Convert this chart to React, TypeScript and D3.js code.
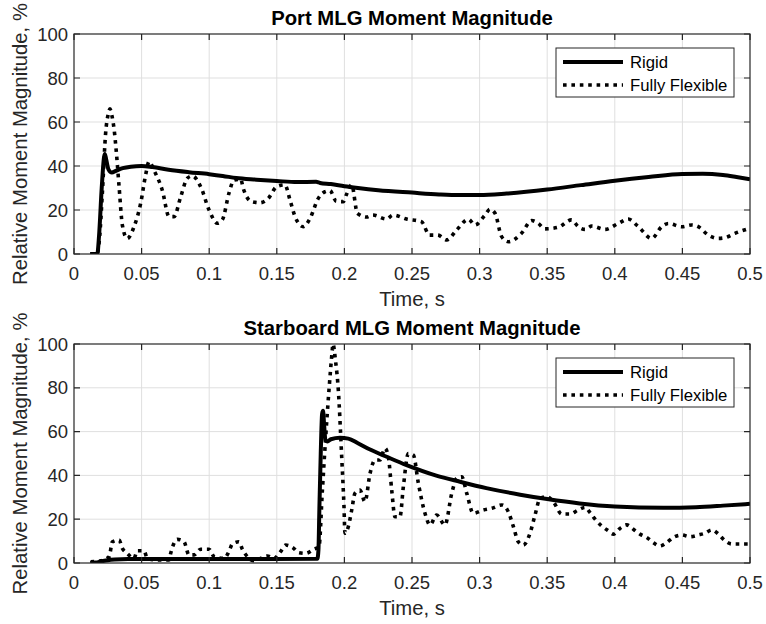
import { useEffect, useRef } from "react";
import * as d3 from "d3";

// chart values
const xTicks = [0, 0.05, 0.1, 0.15, 0.2, 0.25, 0.3, 0.35, 0.4, 0.45, 0.5];
const yTicks = [0, 20, 40, 60, 80, 100];
const seriesNames = ["Rigid", "Fully Flexible"];
const panelTitles = ["Port MLG Moment Magnitude", "Starboard MLG Moment Magnitude"];

const portRigidT = [0.012, 0.0172, 0.0185, 0.0205, 0.0222, 0.0228, 0.0238, 0.0255, 0.028, 0.031, 0.036, 0.042, 0.05, 0.058, 0.07, 0.085, 0.1, 0.11, 0.12, 0.135, 0.15, 0.165, 0.179, 0.182, 0.19, 0.2, 0.21, 0.225, 0.25, 0.27, 0.285, 0.3, 0.32, 0.35, 0.375, 0.4, 0.425, 0.45, 0.465, 0.48, 0.49, 0.5];
const portRigidV = [0, 0, 8, 30, 44, 45.5, 43, 38.5, 37, 37.8, 39, 39.7, 40, 39.5, 38.3, 37.2, 36.3, 35.5, 34.5, 33.8, 33.2, 32.7, 32.8, 32.3, 31.8, 30.8, 30, 29, 27.9, 27.1, 26.8, 26.8, 27.5, 29.3, 31.3, 33.3, 35, 36.4, 36.5, 35.9, 35, 34];

const portFlexT = [0.012, 0.017, 0.019, 0.021, 0.0234, 0.0255, 0.0266, 0.028, 0.0296, 0.0315, 0.0333, 0.0358, 0.0394, 0.0444, 0.0493, 0.053, 0.0555, 0.0592, 0.0653, 0.0703, 0.074, 0.0789, 0.0838, 0.0875, 0.0937, 0.0999, 0.106, 0.1097, 0.1146, 0.1183, 0.1233, 0.1252, 0.1314, 0.1376, 0.1437, 0.1499, 0.156, 0.1598, 0.1635, 0.1696, 0.1746, 0.1807, 0.1856, 0.1893, 0.194, 0.1992, 0.2017, 0.2054, 0.2096, 0.2165, 0.221, 0.231, 0.236, 0.246, 0.257, 0.263, 0.269, 0.2757, 0.283, 0.2917, 0.2966, 0.304, 0.3077, 0.3114, 0.3163, 0.3212, 0.331, 0.3385, 0.3434, 0.3484, 0.358, 0.368, 0.373, 0.378, 0.383, 0.3928, 0.4026, 0.41, 0.417, 0.4273, 0.4347, 0.4396, 0.4495, 0.4569, 0.4618, 0.4692, 0.4766, 0.4815, 0.4889, 0.5];
const portFlexV = [0, 0, 8, 28, 55, 64, 66, 63, 57, 45, 31, 13, 7, 12.4, 23, 36, 42, 38, 29, 17, 17, 26, 34.4, 35.5, 30.6, 20, 14, 15.5, 27.6, 33.6, 34, 29.8, 23.8, 23.3, 25.3, 30.6, 31.4, 24.5, 17, 12.4, 16.2, 25.3, 28.3, 28.8, 24, 23.8, 27.3, 31.4, 18.5, 16.8, 17.7, 15.9, 17.7, 15.9, 14.7, 8.6, 8.6, 6.4, 10.9, 15.8, 13.2, 17.7, 20.3, 18.5, 7.9, 5.6, 9.4, 15.2, 13.9, 11.4, 12.1, 15.5, 12.4, 11.2, 12.7, 11.2, 13.9, 15.9, 12.7, 7.1, 12.4, 13.9, 12.4, 13.2, 12.4, 8.6, 7.1, 7.4, 9.4, 11.7];

const stbdRigidT = [0.012, 0.016, 0.02, 0.025, 0.03, 0.04, 0.1, 0.18, 0.1808, 0.1815, 0.1825, 0.1835, 0.1842, 0.185, 0.186, 0.1875, 0.19, 0.1967, 0.2029, 0.21, 0.219, 0.2313, 0.246, 0.268, 0.2855, 0.305, 0.33, 0.35, 0.374, 0.4, 0.436, 0.46, 0.48, 0.5];
const stbdRigidV = [0, 0.2, 0.7, 1.3, 1.6, 1.8, 1.8, 1.9, 6, 25, 50, 68, 69.5, 63, 56, 55.5, 56.5, 57.2, 56.8, 54.7, 51.8, 48.5, 44.7, 39.9, 37.1, 34.2, 31.2, 29.2, 27.2, 25.8, 25.2, 25.5, 26.2, 27];

const stbdFlexT = [0.0123, 0.0197, 0.026, 0.0284, 0.0333, 0.0358, 0.0394, 0.0444, 0.0468, 0.0518, 0.0542, 0.0616, 0.0703, 0.0715, 0.0764, 0.0814, 0.085, 0.0888, 0.0937, 0.0999, 0.1036, 0.111, 0.1146, 0.1171, 0.122, 0.1245, 0.1282, 0.1331, 0.138, 0.143, 0.148, 0.1528, 0.1566, 0.1615, 0.1664, 0.1714, 0.1775, 0.1812, 0.1837, 0.186, 0.1886, 0.191, 0.1915, 0.1935, 0.1955, 0.198, 0.1997, 0.2004, 0.2029, 0.2054, 0.2078, 0.2115, 0.2152, 0.219, 0.2226, 0.2263, 0.23, 0.2325, 0.235, 0.2374, 0.2411, 0.2436, 0.2473, 0.251, 0.2547, 0.2596, 0.2633, 0.2682, 0.2744, 0.2794, 0.2831, 0.2868, 0.2905, 0.2953, 0.3027, 0.309, 0.3164, 0.3212, 0.325, 0.3286, 0.3323, 0.3373, 0.341, 0.3447, 0.3496, 0.3545, 0.3607, 0.3669, 0.373, 0.378, 0.3817, 0.3854, 0.3903, 0.3952, 0.3989, 0.4038, 0.4088, 0.4137, 0.4186, 0.4236, 0.4285, 0.4334, 0.4383, 0.4433, 0.4495, 0.4556, 0.4618, 0.4667, 0.4717, 0.4766, 0.4815, 0.4865, 0.4926, 0.5];
const stbdFlexV = [0.6, 1, 2.9, 9.7, 10.5, 6.7, 4.4, 2.1, 5.6, 5.6, 2.1, 1.4, 1.4, 4.4, 10.8, 9.7, 3.7, 3.7, 6.3, 6.3, 2.9, 2.1, 5.2, 8.7, 9.7, 6.3, 2.9, 1, 2.1, 3.2, 2.1, 5.2, 8.2, 7.2, 4.7, 4.4, 6.3, 7.4, 33, 56, 79, 97, 100, 92, 79, 48.5, 25.7, 13.6, 16.6, 24.2, 31.8, 33.3, 28, 41, 47, 47, 52.4, 48.5, 33.3, 21.1, 21.1, 34.8, 50, 49.3, 36.4, 22.7, 17.4, 21.9, 17.4, 31.8, 38.7, 39.4, 31.8, 22.7, 24.2, 25, 26.5, 23.4, 16.6, 9.7, 8.2, 13.6, 21.9, 29.5, 30.3, 28, 22.4, 22.4, 24.2, 25.4, 23, 20, 16.9, 14.7, 13.2, 15.8, 17.4, 15.4, 13.2, 11.7, 9.3, 7.8, 9.3, 11.7, 12.8, 12, 12.8, 13.6, 15.1, 13.2, 10.2, 8.7, 8.7, 8.7];

const W = 766;
const H = 624;
const FONT = "'Liberation Sans', Arial, Helvetica, sans-serif";
const AX = "#262626";

function zip(t, v) {
  return t.map((d, i) => [d, v[i]]);
}

function drawPanel(svg, idx, top, bottom, rigid, flex) {
  const left = 74;
  const right = 750;
  const x = d3.scaleLinear().domain([0, 0.5]).range([left, right]);
  const y = d3.scaleLinear().domain([0, 100]).range([bottom, top]);
  const g = svg.append("g");

  g.append("rect")
    .attr("x", left)
    .attr("y", top)
    .attr("width", right - left)
    .attr("height", bottom - top)
    .attr("fill", "white");

  // grid
  g.append("g")
    .selectAll("line")
    .data(xTicks.slice(1, -1))
    .join("line")
    .attr("x1", (d) => x(d))
    .attr("x2", (d) => x(d))
    .attr("y1", top)
    .attr("y2", bottom)
    .attr("stroke", "#dfdfdf");
  g.append("g")
    .selectAll("line")
    .data(yTicks.slice(1, -1))
    .join("line")
    .attr("x1", left)
    .attr("x2", right)
    .attr("y1", (d) => y(d))
    .attr("y2", (d) => y(d))
    .attr("stroke", "#dfdfdf");

  const clipId = "clip" + idx;
  svg
    .append("clipPath")
    .attr("id", clipId)
    .append("rect")
    .attr("x", left)
    .attr("y", top - 2)
    .attr("width", right - left)
    .attr("height", bottom - top + 2);

  const line = d3
    .line()
    .curve(d3.curveMonotoneX)
    .x((d) => x(d[0]))
    .y((d) => y(d[1]));

  const lines = g.append("g").attr("clip-path", `url(#${clipId})`);
  lines
    .append("path")
    .datum(rigid)
    .attr("fill", "none")
    .attr("stroke", "black")
    .attr("stroke-width", 4)
    .attr("stroke-linejoin", "round")
    .attr("d", line);
  lines
    .append("path")
    .datum(flex)
    .attr("fill", "none")
    .attr("stroke", "black")
    .attr("stroke-width", 3.6)
    .attr("stroke-dasharray", "3.6,4.8")
    .attr("d", line);

  // box + inward ticks
  const tl = 6;
  const axes = g.append("g").attr("stroke", AX).attr("stroke-width", 1.2);
  axes
    .selectAll(".xt")
    .data(xTicks)
    .join("path")
    .attr("d", (d) => `M${x(d)},${bottom}v${-tl}M${x(d)},${top}v${tl}`);
  axes
    .selectAll(".yt")
    .data(yTicks)
    .join("path")
    .attr("d", (d) => `M${left},${y(d)}h${tl}M${right},${y(d)}h${-tl}`);
  axes
    .append("rect")
    .attr("x", left)
    .attr("y", top)
    .attr("width", right - left)
    .attr("height", bottom - top)
    .attr("fill", "none");

  const txt = g.append("g").attr("font-family", FONT).attr("fill", AX);
  txt
    .selectAll(".xl")
    .data(xTicks)
    .join("text")
    .attr("x", (d) => x(d))
    .attr("y", bottom + 26)
    .attr("text-anchor", "middle")
    .attr("font-size", 18.5)
    .text((d) => String(+d.toFixed(2)));
  txt
    .selectAll(".yl")
    .data(yTicks)
    .join("text")
    .attr("x", left - 6)
    .attr("y", (d) => y(d) + 6.5)
    .attr("text-anchor", "end")
    .attr("font-size", 18.5)
    .text((d) => d);
  txt
    .append("text")
    .attr("x", (left + right) / 2)
    .attr("y", bottom + 52)
    .attr("text-anchor", "middle")
    .attr("font-size", 20.3)
    .text("Time, s");
  txt
    .append("text")
    .attr("transform", `translate(27,${(top + bottom) / 2}) rotate(-90)`)
    .attr("text-anchor", "middle")
    .attr("font-size", 20.3)
    .text("Relative Moment Magnitude, %");
  g.append("text")
    .attr("x", (left + right) / 2)
    .attr("y", top - 9)
    .attr("text-anchor", "middle")
    .attr("font-family", FONT)
    .attr("font-weight", "bold")
    .attr("font-size", 20.3)
    .attr("fill", "black")
    .text(panelTitles[idx]);

  // legend
  const lg = g.append("g");
  lg.append("rect")
    .attr("x", 556)
    .attr("y", top + 14)
    .attr("width", 178)
    .attr("height", 49)
    .attr("fill", "white")
    .attr("stroke", AX)
    .attr("stroke-width", 1);
  seriesNames.forEach((name, i) => {
    const yy = top + 28 + i * 23;
    lg.append("line")
      .attr("x1", 563)
      .attr("x2", 623)
      .attr("y1", yy)
      .attr("y2", yy)
      .attr("stroke", "black")
      .attr("stroke-width", i === 0 ? 4 : 3.6)
      .attr("stroke-dasharray", i === 0 ? null : "3.6,4.8");
    lg.append("text")
      .attr("x", 630)
      .attr("y", yy + 6)
      .attr("font-family", FONT)
      .attr("font-size", 16.7)
      .attr("fill", "black")
      .text(name);
  });
}

export default function App() {
  const svgElem = useRef(null);

  useEffect(() => {
    const svg = d3.select(svgElem.current);
    svg.selectAll("*").remove();
    svg.append("rect").attr("width", W).attr("height", H).attr("fill", "white");
    drawPanel(svg, 0, 34, 254, zip(portRigidT, portRigidV), zip(portFlexT, portFlexV));
    drawPanel(svg, 1, 344, 563, zip(stbdRigidT, stbdRigidV), zip(stbdFlexT, stbdFlexV));
  }, []);

  return (
    <svg
      ref={svgElem}
      width={W}
      height={H}
      style={{ position: "absolute", left: 0, top: 0 }}
    ></svg>
  );
}
